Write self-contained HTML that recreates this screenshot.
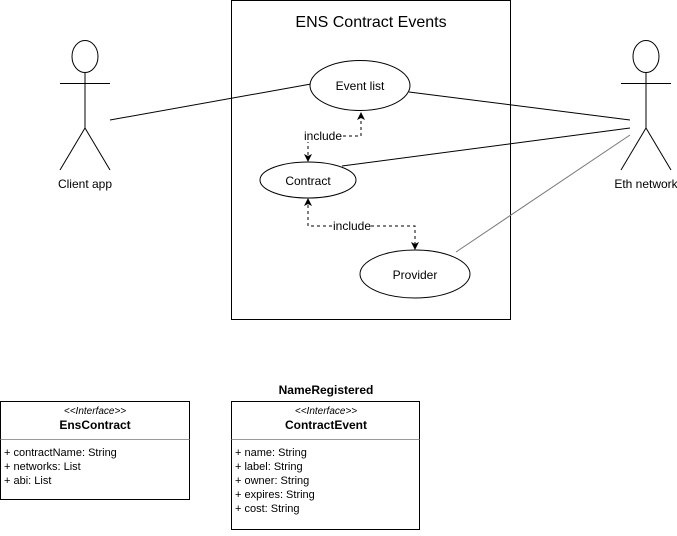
<!DOCTYPE html>
<html><head><meta charset="utf-8"><style>
html,body{margin:0;padding:0;background:#fff;}
svg text{font-family:"Liberation Sans",Arial,sans-serif;}
</style></head><body>
<svg width="677" height="531" viewBox="0 0 677 531" xmlns="http://www.w3.org/2000/svg">
<defs>
<marker id="ar" markerWidth="8" markerHeight="8" refX="7" refY="4" orient="auto-start-reverse" markerUnits="userSpaceOnUse">
<path d="M0,0 L8,4 L0,8 L2,4 Z" fill="#000"/></marker>
</defs>
<rect x="231.5" y="0.5" width="279" height="319" fill="#fff" stroke="#000"/>
<text x="371" y="27" font-size="16" text-anchor="middle">ENS Contract Events</text>

<g stroke="#000" fill="none" stroke-width="1">
<ellipse cx="85" cy="56.5" rx="13" ry="16"/>
<line x1="85" y1="72.5" x2="85" y2="128"/>
<line x1="60" y1="83.5" x2="110" y2="83.5"/>
<line x1="85" y1="128" x2="60" y2="170"/>
<line x1="85" y1="128" x2="110" y2="170"/>
<ellipse cx="646" cy="56.5" rx="13" ry="16"/>
<line x1="646" y1="72.5" x2="646" y2="128"/>
<line x1="621" y1="83.5" x2="671" y2="83.5"/>
<line x1="646" y1="128" x2="621" y2="170"/>
<line x1="646" y1="128" x2="671" y2="170"/>
</g>
<text x="85" y="188" font-size="12" text-anchor="middle">Client app</text>
<text x="646" y="188" font-size="12" text-anchor="middle">Eth network</text>

<line x1="110" y1="120" x2="311" y2="84" stroke="#000"/>
<line x1="409" y1="92" x2="630" y2="120" stroke="#000"/>
<line x1="342" y1="166" x2="630" y2="128" stroke="#000"/>
<line x1="456" y1="252" x2="630" y2="135" stroke="#777"/>

<ellipse cx="360" cy="85.5" rx="50" ry="25" fill="#fff" stroke="#000"/>
<text x="360" y="90" font-size="12" text-anchor="middle">Event list</text>
<ellipse cx="308" cy="180" rx="48" ry="18" fill="#fff" stroke="#000"/>
<text x="308" y="185" font-size="12" text-anchor="middle">Contract</text>
<ellipse cx="415" cy="274" rx="55" ry="24" fill="#fff" stroke="#000"/>
<text x="415" y="279" font-size="12" text-anchor="middle">Provider</text>

<g stroke="#000" fill="none" stroke-dasharray="3,3">
<path d="M308,161 L308,136 L361,136 L361,113" marker-start="url(#ar)" marker-end="url(#ar)"/>
<path d="M308,199 L308,226 L415,226 L415,249" marker-start="url(#ar)" marker-end="url(#ar)"/>
</g>
<rect x="304" y="129" width="38" height="13" fill="#fff"/>
<text x="323" y="140" font-size="12" text-anchor="middle">include</text>
<rect x="333" y="219" width="38" height="13" fill="#fff"/>
<text x="352" y="230" font-size="12" text-anchor="middle">include</text>

<rect x="0.5" y="401.5" width="189" height="98" fill="#fff" stroke="#000"/>
<line x1="0.5" y1="439.5" x2="189.5" y2="439.5" stroke="#999"/>
<text x="95" y="414" font-size="10" font-style="italic" text-anchor="middle">&lt;&lt;Interface&gt;&gt;</text>
<text x="95" y="429" font-size="12" font-weight="bold" text-anchor="middle">EnsContract</text>
<g font-size="11">
<text x="4" y="456">+ contractName: String</text>
<text x="4" y="470">+ networks: List</text>
<text x="4" y="484">+ abi: List</text>
</g>
<text x="326" y="394" font-size="12" font-weight="bold" text-anchor="middle">NameRegistered</text>
<rect x="231.5" y="401.5" width="188" height="128" fill="#fff" stroke="#000"/>
<line x1="231.5" y1="439.5" x2="419.5" y2="439.5" stroke="#999"/>
<text x="326" y="414" font-size="10" font-style="italic" text-anchor="middle">&lt;&lt;Interface&gt;&gt;</text>
<text x="326" y="429" font-size="12" font-weight="bold" text-anchor="middle">ContractEvent</text>
<g font-size="11">
<text x="235" y="456">+ name: String</text>
<text x="235" y="470">+ label: String</text>
<text x="235" y="484">+ owner: String</text>
<text x="235" y="498">+ expires: String</text>
<text x="235" y="512">+ cost: String</text>
</g>
</svg>
</body></html>
